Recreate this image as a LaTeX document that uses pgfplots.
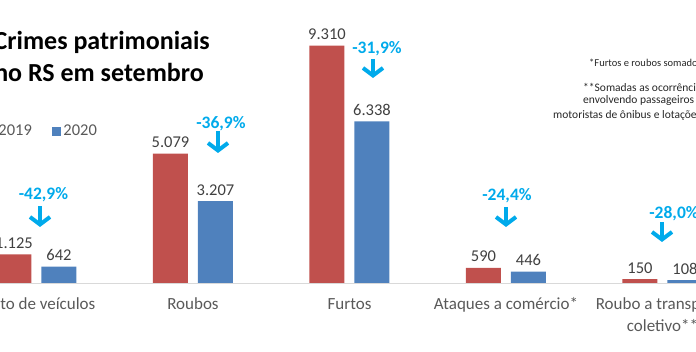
\documentclass[border=0pt]{standalone}
\usepackage{pgfplots}
\pgfplotsset{compat=1.18}
\usepackage{fontspec}
\setmainfont{Carlito}
\usetikzlibrary{arrows.meta}
\definecolor{redbar}{RGB}{192,80,77}
\definecolor{bluebar}{RGB}{79,129,189}
\definecolor{pct}{RGB}{0,170,235}
\definecolor{txt}{RGB}{64,64,64}
\definecolor{lbl}{RGB}{89,89,89}
\begin{document}
\begin{tikzpicture}[x=1pt,y=1pt]
\path[use as bounding box, clip] (0,0) rectangle (696,352);
\begin{axis}[
  at={(0pt,69pt)}, anchor=south west,
  scale only axis, width=696pt, height=283pt,
  xmin=-0.2332, xmax=4.2141, ymin=0, ymax=11100,
  ybar=10pt, bar width=35pt,
  axis x line=bottom, axis y line=none,
  x axis line style={draw=black!15, line width=0.8pt, -},
  xtick={0,1,2,3,4},
  xticklabels={Furto de veículos, Roubos, Furtos, Ataques a comércio*, {\begin{tabular}[t]{@{}c@{}}Roubo a transporte\\coletivo**\end{tabular}}},
  major tick length=0pt,
  xticklabel style={font=\fontsize{17}{22}\selectfont, text=lbl, anchor=base, yshift=-27pt},
  nodes near coords,
  nodes near coords style={font=\fontsize{16.5}{19}\selectfont, text=txt, yshift=2.5pt},
  /pgf/number format/1000 sep={.},
  /pgf/number format/assume math mode=true,
  legend columns=2,
  legend style={at={(axis description cs:-0.019,0.537)}, anchor=west, draw=none, fill=none, inner sep=0pt,
    font=\fontsize{16.5}{19}\selectfont, text=lbl,
    /tikz/every even column/.append style={column sep=18pt}},
]
\addplot[fill=redbar, draw=none, legend image code/.code={\fill[redbar] (0pt,-4.5pt) rectangle (9.5pt,4.5pt);}]
  coordinates {(0,1125) (1,5079) (2,9310) (3,590) (4,150)};
\addplot[fill=bluebar, draw=none, legend image code/.code={\fill[bluebar] (0pt,-4.5pt) rectangle (9.5pt,4.5pt);}]
  coordinates {(0,642) (1,3207) (2,6338) (3,446) (4,108)};
\legend{2019, 2020}
\end{axis}
% title
\node[anchor=base east, inner sep=0pt, font=\fontsize{26}{30}\selectfont\bfseries] at (210,302) {Crimes patrimoniais};
\node[anchor=base east, inner sep=0pt, font=\fontsize{26}{30}\selectfont\bfseries] at (204,270) {no RS em setembro};
% notes
\node[anchor=west, inner sep=0pt, font=\fontsize{10.5}{12}\selectfont, text=black!85] at (589,289) {*Furtos e roubos somados};
\node[anchor=west, inner sep=0pt, font=\fontsize{11.5}{13}\selectfont, text=black!85] at (583,265) {**Somadas as ocorrências};
\node[anchor=west, inner sep=0pt, font=\fontsize{11.5}{13}\selectfont, text=black!85] at (583,251) {envolvendo passageiros e};
\node[anchor=west, inner sep=0pt, font=\fontsize{11.5}{13}\selectfont, text=black!85] at (553,237) {motoristas de ônibus e lotações};
% percentage changes
\tikzset{pctl/.style={font=\fontsize{17.5}{20}\selectfont\bfseries, text=pct, inner sep=0pt},
         parr/.style={pct, line width=4pt, -{Straight Barb[length=7.5pt,width=20pt,line width=4pt]}}}
\node[pctl] at (43.5,157) {-42,9\%};
\draw[parr] (40,146) -- (40,125);
\node[pctl] at (221,228) {-36,9\%};
\draw[parr] (218,221) -- (218,199);
\node[pctl] at (377,303) {-31,9\%};
\draw[parr] (373,293) -- (373,274);
\node[pctl] at (507,156) {-24,4\%};
\draw[parr] (506,145) -- (506,125);
\node[pctl] at (674,138) {-28,0\%};
\draw[parr] (662,130) -- (662,110);
\end{tikzpicture}
\end{document}
